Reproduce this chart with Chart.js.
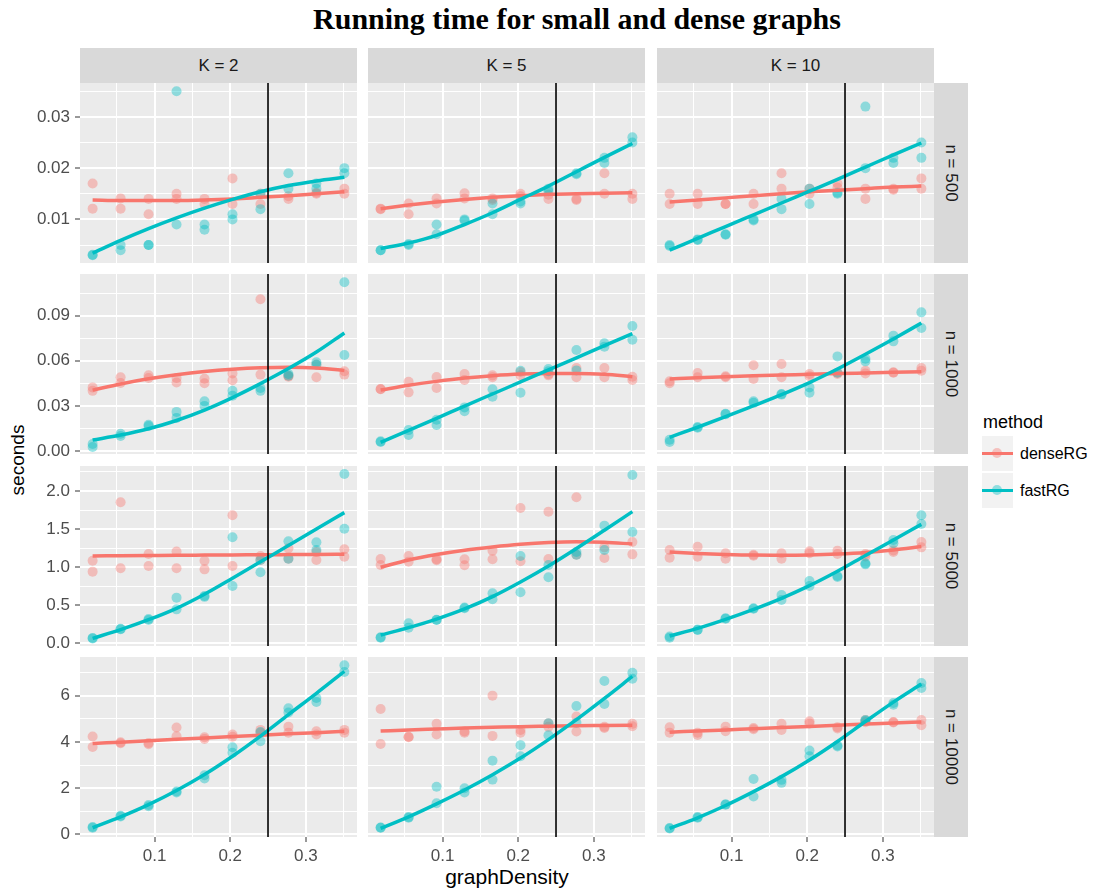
<!DOCTYPE html>
<html>
<head>
<meta charset="utf-8">
<script src="https://cdn.jsdelivr.net/npm/chart.js@4.4.1/dist/chart.umd.min.js"></script>
<style>
  body { margin: 0; background: #fff; width: 1113px; height: 896px; position: relative; overflow: hidden;
         font-family: "Liberation Sans", Arial, sans-serif; }
  canvas { position: absolute; }
  .txt { position: absolute; white-space: nowrap; transform: translate(-50%, -50%); }
  .strip { position: absolute; background: #D9D9D9; color: #1A1A1A; font-size: 17px;
           display: flex; align-items: center; justify-content: center; }
  .strip.side span { transform: rotate(90deg); white-space: nowrap; }
  .key { position: absolute; width: 31px; height: 35px; background: #F2F2F2; }
  .key .ln { position: absolute; left: 0; right: 0; top: 16px; height: 3px; }
  .key .pt { position: absolute; left: 10px; top: 12px; width: 10px; height: 10px; border-radius: 50%; }
</style>
</head>
<body>

<div class="txt" id="title" style="left:577px;top:19px;font-family:'Liberation Serif','Times New Roman',serif;font-weight:bold;font-size:30px;color:#000">Running time for small and dense graphs</div>
<div class="txt" style="left:18px;top:460px;font-size:19px;transform:translate(-50%,-50%) rotate(-90deg)">seconds</div>
<div class="txt" style="left:507px;top:877px;font-size:21px">graphDensity</div>

<div class="txt" style="left:983px;top:422px;font-size:18px;transform:translate(0,-50%)">method</div>
<div class="key" style="left:982px;top:436px"><div class="pt" style="background:rgba(248,118,109,0.4)"></div><div class="ln" style="background:#F8766D"></div></div>
<div class="txt" style="left:1020px;top:454px;font-size:16px;transform:translate(0,-50%)">denseRG</div>
<div class="key" style="left:982px;top:473px"><div class="pt" style="background:rgba(0,191,196,0.4)"></div><div class="ln" style="background:#00BFC4"></div></div>
<div class="txt" style="left:1020px;top:491px;font-size:16px;transform:translate(0,-50%)">fastRG</div>

<script>
// --- DATOS ---
const density = [0.018, 0.055, 0.092, 0.129, 0.166, 0.203, 0.240, 0.277, 0.314, 0.351];
const cutoff = 0.25;
const kLabels = ['K = 2', 'K = 5', 'K = 10'];
const nLabels = ['n = 500', 'n = 1000', 'n = 5000', 'n = 10000'];

const xMajor = [0.1, 0.2, 0.3];
const xMinor = [0.05, 0.15, 0.25, 0.35];
const xLabels = ['0.1', '0.2', '0.3'];
const xRange = [0.0013, 0.3677];

const yMajor500 = [0.01, 0.02, 0.03];
const yLabels500 = ['0.01', '0.02', '0.03'];
const yMinor500 = [0.005, 0.015, 0.025, 0.035];
const yRange500 = [0.0015, 0.0366];

const yMajor1000 = [0, 0.03, 0.06, 0.09];
const yLabels1000 = ['0.00', '0.03', '0.06', '0.09'];
const yMinor1000 = [0.015, 0.045, 0.075, 0.105];
const yRange1000 = [-0.002, 0.1177];

const yMajor5000 = [0, 0.5, 1, 1.5, 2];
const yLabels5000 = ['0.0', '0.5', '1.0', '1.5', '2.0'];
const yMinor5000 = [0.25, 0.75, 1.25, 1.75, 2.25];
const yRange5000 = [-0.035, 2.328];

const yMajor10000 = [0, 2, 4, 6];
const yLabels10000 = ['0', '2', '4', '6'];
const yMinor10000 = [1, 3, 5, 7];
const yRange10000 = [-0.11, 7.67];

// n = 500 (dos repeticiones por densidad)
const dense500K2  = [[0.017,0.0121],[0.0141,0.0121],[0.014,0.011],[0.015,0.014],[0.014,0.013],[0.018,0.013],[0.015,0.013],[0.014,0.0145],[0.015,0.0152],[0.016,0.015]];
const fast500K2   = [[0.0031,0.003],[0.005,0.004],[0.005,0.005],[0.035,0.009],[0.009,0.008],[0.011,0.010],[0.012,0.015],[0.019,0.016],[0.016,0.017],[0.020,0.019]];
const dense500K5  = [[0.0121,0.012],[0.0131,0.011],[0.0141,0.0131],[0.0151,0.0141],[0.0141,0.0138],[0.015,0.0145],[0.014,0.0148],[0.014,0.0138],[0.019,0.015],[0.015,0.014]];
const fast500K5   = [[0.004,0.004],[0.005,0.0052],[0.009,0.0071],[0.010,0.0098],[0.0131,0.011],[0.0131,0.0135],[0.016,0.0155],[0.019,0.0188],[0.022,0.021],[0.026,0.025]];
const dense500K10 = [[0.015,0.013],[0.015,0.013],[0.013,0.013],[0.015,0.013],[0.019,0.016],[0.016,0.015],[0.017,0.0162],[0.016,0.014],[0.016,0.0158],[0.018,0.016]];
const fast500K10  = [[0.005,0.0048],[0.0061,0.006],[0.0071,0.007],[0.010,0.0098],[0.014,0.012],[0.013,0.016],[0.015,0.0152],[0.032,0.020],[0.022,0.021],[0.025,0.022]];
const denseFit500K2  = [0.0138,0.0137,0.0137,0.0137,0.0138,0.014,0.0143,0.0146,0.015,0.0154];
const fastFit500K2   = [0.0034,0.0059,0.0082,0.0103,0.0122,0.0139,0.0154,0.0166,0.0175,0.0182];
const denseFit500K5  = [0.0121,0.0128,0.0134,0.0139,0.0143,0.0146,0.0149,0.015,0.0151,0.0152];
const fastFit500K5   = [0.0043,0.0054,0.0069,0.009,0.0113,0.0139,0.0165,0.0193,0.0221,0.0248];
const denseFit500K10 = [0.0134,0.0138,0.0142,0.0146,0.015,0.0154,0.0157,0.016,0.0163,0.0165];
const fastFit500K10  = [0.004,0.0063,0.0086,0.0109,0.0132,0.0155,0.0178,0.0202,0.0226,0.0249];

// n = 1000
const dense1000K2  = [[0.0423,0.040],[0.049,0.0452],[0.0503,0.0485],[0.0485,0.0456],[0.048,0.045],[0.0516,0.047],[0.1009,0.0508],[0.0494,0.050],[0.049,0.0575],[0.053,0.0508]];
const fast1000K2   = [[0.0047,0.0027],[0.0115,0.010],[0.0175,0.0166],[0.026,0.022],[0.033,0.030],[0.040,0.0368],[0.0419,0.040],[0.0512,0.050],[0.059,0.0574],[0.1122,0.0638]];
const dense1000K5  = [[0.0412,0.041],[0.046,0.039],[0.0492,0.0419],[0.0512,0.0472],[0.0503,0.049],[0.0525,0.0503],[0.0503,0.051],[0.0552,0.049],[0.0552,0.049],[0.0494,0.0472]];
const fast1000K5   = [[0.0064,0.006],[0.0139,0.0107],[0.0208,0.0173],[0.029,0.0264],[0.041,0.0361],[0.0534,0.0388],[0.0545,0.053],[0.0672,0.0536],[0.0716,0.0694],[0.0831,0.074]];
const dense1000K10 = [[0.0463,0.045],[0.0519,0.049],[0.0497,0.049],[0.057,0.0479],[0.0578,0.049],[0.0512,0.0497],[0.0512,0.052],[0.0534,0.0516],[0.0523,0.052],[0.0552,0.0534]];
const fast1000K10  = [[0.0075,0.006],[0.0159,0.0155],[0.0248,0.0245],[0.033,0.032],[0.0379,0.0375],[0.0423,0.0388],[0.0629,0.052],[0.0614,0.0596],[0.0767,0.0729],[0.0922,0.0818]];
const denseFit1000K2  = [0.0405,0.0446,0.048,0.0507,0.0528,0.0543,0.0553,0.0557,0.0552,0.0536];
const fastFit1000K2   = [0.0073,0.0106,0.0148,0.0203,0.0272,0.0355,0.0448,0.0548,0.0658,0.0785];
const denseFit1000K5  = [0.0405,0.0437,0.0463,0.0485,0.0501,0.0512,0.0516,0.0516,0.051,0.0494];
const fastFit1000K5   = [0.0057,0.0137,0.0217,0.0299,0.0379,0.0459,0.0539,0.0619,0.0701,0.078];
const denseFit1000K10 = [0.0479,0.0487,0.0494,0.05,0.0505,0.051,0.0515,0.0519,0.0523,0.0527];
const fastFit1000K10  = [0.0091,0.0158,0.0228,0.0301,0.0375,0.0455,0.0545,0.0643,0.0745,0.0851];

// n = 5000
const dense5000K2  = [[1.085,0.941],[1.851,0.985],[1.173,1.015],[1.204,0.985],[1.085,0.971],[1.681,1.015],[1.147,1.094],[1.247,1.112],[1.094,1.2],[1.234,1.138]];
const fast5000K2   = [[0.07,0.065],[0.184,0.19],[0.306,0.32],[0.6,0.446],[0.621,0.61],[1.392,0.753],[0.932,1.094],[1.339,1.112],[1.326,1.225],[2.223,1.505]];
const dense5000K5  = [[1.107,1.028],[1.147,1.072],[1.103,1.09],[1.103,1.024],[1.217,1.103],[1.777,1.077],[1.729,1.107],[1.917,1.164],[1.26,1.12],[1.33,1.168]];
const fast5000K5   = [[0.074,0.08],[0.263,0.206],[0.306,0.31],[0.46,0.47],[0.656,0.578],[1.147,0.67],[1.028,0.867],[1.164,1.2],[1.545,1.225],[2.21,1.462]];
const dense5000K10 = [[1.225,1.125],[1.269,1.138],[1.182,1.112],[1.164,1.15],[1.182,1.112],[1.208,1.182],[1.217,1.173],[1.173,1.14],[1.199,1.22],[1.33,1.26]];
const fast5000K10  = [[0.074,0.09],[0.175,0.18],[0.324,0.33],[0.455,0.46],[0.635,0.569],[0.818,0.753],[0.884,0.87],[1.037,1.05],[1.357,1.313],[1.681,1.567]];
const denseFit5000K2  = [1.147,1.15,1.153,1.156,1.158,1.16,1.163,1.165,1.167,1.17];
const fastFit5000K2   = [0.066,0.18,0.31,0.46,0.645,0.855,1.07,1.285,1.5,1.716];
const denseFit5000K5  = [0.998,1.094,1.165,1.222,1.265,1.3,1.324,1.334,1.327,1.304];
const fastFit5000K5   = [0.109,0.206,0.318,0.451,0.613,0.805,1.015,1.245,1.485,1.729];
const denseFit5000K10 = [1.199,1.18,1.167,1.158,1.156,1.16,1.172,1.192,1.226,1.27];
const fastFit5000K10  = [0.096,0.197,0.315,0.446,0.591,0.757,0.946,1.153,1.357,1.562];

// n = 10000
const dense10000K2  = [[4.23,3.78],[3.94,3.98],[3.9,3.95],[4.62,4.24],[4.13,4.2],[4.32,4.22],[4.52,4.4],[4.66,4.4],[4.46,4.32],[4.52,4.4]];
const fast10000K2   = [[0.29,0.32],[0.81,0.78],[1.27,1.22],[1.81,1.86],[2.56,2.42],[3.77,3.53],[4.43,4.03],[5.45,5.27],[5.9,5.73],[7.31,7.02]];
const dense10000K5  = [[5.42,3.91],[4.2,4.22],[4.78,4.32],[4.4,4.45],[6.0,4.26],[4.52,4.4],[4.81,4.65],[4.45,5.1],[4.6,4.65],[4.78,4.68]];
const fast10000K5   = [[0.29,0.3],[0.72,0.75],[2.06,1.35],[1.81,2.0],[3.19,2.37],[3.86,3.38],[4.81,4.29],[5.55,4.83],[6.63,5.64],[6.99,6.73]];
const dense10000K10 = [[4.63,4.4],[4.4,4.3],[4.66,4.46],[4.6,4.55],[4.78,4.52],[4.89,4.8],[4.63,4.58],[4.95,4.85],[4.86,4.84],[4.95,4.72]];
const fast10000K10  = [[0.26,0.28],[0.72,0.75],[1.29,1.3],[2.4,1.64],[2.36,2.23],[3.63,3.38],[3.8,3.85],[4.95,4.9],[5.68,5.61],[6.55,6.33]];
const denseFit10000K2  = [3.93,3.99,4.05,4.11,4.17,4.23,4.29,4.35,4.4,4.46];
const fastFit10000K2   = [0.29,0.76,1.29,1.9,2.59,3.38,4.25,5.18,6.1,7.05];
const denseFit10000K5  = [4.47,4.52,4.56,4.6,4.63,4.66,4.68,4.7,4.71,4.72];
const fastFit10000K5   = [0.26,0.76,1.32,1.92,2.58,3.3,4.1,4.96,5.88,6.83];
const denseFit10000K10 = [4.42,4.47,4.52,4.57,4.62,4.67,4.72,4.77,4.82,4.86];
const fastFit10000K10  = [0.26,0.72,1.25,1.85,2.5,3.22,4.02,4.88,5.72,6.5];

// --- TABLAS POR FILA / COLUMNA ---
const densePts = [[dense500K2, dense500K5, dense500K10], [dense1000K2, dense1000K5, dense1000K10],
                  [dense5000K2, dense5000K5, dense5000K10], [dense10000K2, dense10000K5, dense10000K10]];
const fastPts  = [[fast500K2, fast500K5, fast500K10], [fast1000K2, fast1000K5, fast1000K10],
                  [fast5000K2, fast5000K5, fast5000K10], [fast10000K2, fast10000K5, fast10000K10]];
const denseFits = [[denseFit500K2, denseFit500K5, denseFit500K10], [denseFit1000K2, denseFit1000K5, denseFit1000K10],
                   [denseFit5000K2, denseFit5000K5, denseFit5000K10], [denseFit10000K2, denseFit10000K5, denseFit10000K10]];
const fastFits  = [[fastFit500K2, fastFit500K5, fastFit500K10], [fastFit1000K2, fastFit1000K5, fastFit1000K10],
                   [fastFit5000K2, fastFit5000K5, fastFit5000K10], [fastFit10000K2, fastFit10000K5, fastFit10000K10]];
const yMajors = [yMajor500, yMajor1000, yMajor5000, yMajor10000];
const yLabelsAll = [yLabels500, yLabels1000, yLabels5000, yLabels10000];
const yMinors = [yMinor500, yMinor1000, yMinor5000, yMinor10000];
const yRanges = [yRange500, yRange1000, yRange5000, yRange10000];

// --- LAYOUT ---
const rowTop = [83, 274, 466, 657];
const colLeft = [80, 368, 657];
const panelW = 277, panelH = 180;
const stripH = 35, stripW = 34;
const bottomAxisH = 34;
const margin = 14;   // espacio extra para que no se corten las etiquetas

const RED = '#F8766D', CYAN = '#00BFC4';
Chart.defaults.font.family = "'Liberation Sans', Arial, sans-serif";

// franjas (strips)
kLabels.forEach((lab, c) => {
    const d = document.createElement('div');
    d.className = 'strip';
    Object.assign(d.style, { left: colLeft[c] + 'px', top: (rowTop[0] - stripH) + 'px', width: panelW + 'px', height: stripH + 'px' });
    d.textContent = lab;
    document.body.appendChild(d);
});
nLabels.forEach((lab, r) => {
    const d = document.createElement('div');
    d.className = 'strip side';
    Object.assign(d.style, { left: (colLeft[2] + panelW) + 'px', top: rowTop[r] + 'px', width: stripW + 'px', height: panelH + 'px' });
    d.innerHTML = '<span>' + lab + '</span>';
    document.body.appendChild(d);
});

const panelBg = {
    id: 'panelBg',
    beforeDraw(chart) {
        const a = chart.chartArea, ctx = chart.ctx;
        ctx.save();
        ctx.fillStyle = '#EBEBEB';
        ctx.fillRect(a.left, a.top, a.right - a.left, a.bottom - a.top);
        ctx.restore();
    }
};
const cutoffLine = {
    id: 'cutoffLine',
    afterDatasetsDraw(chart) {
        const a = chart.chartArea, ctx = chart.ctx;
        const px = chart.scales.x.getPixelForValue(cutoff);
        ctx.save();
        ctx.strokeStyle = '#000';
        ctx.lineWidth = 1.6;
        ctx.beginPath();
        ctx.moveTo(px, a.top);
        ctx.lineTo(px, a.bottom);
        ctx.stroke();
        ctx.restore();
    }
};

function points(reps) {
    const out = [];
    reps.forEach((vals, i) => vals.forEach(v => out.push({ x: density[i], y: v })));
    return out;
}
function curve(vals) {
    return vals.map((v, i) => ({ x: density[i], y: v }));
}
function noPad(s) {
    s.paddingTop = 0; s.paddingBottom = 0; s.paddingLeft = 0; s.paddingRight = 0;
}

function makePanel(r, c) {
    const cv = document.createElement('canvas');
    const left = c === 0 ? 0 : colLeft[c];
    const width = c === 0 ? colLeft[0] + panelW : panelW;
    const height = margin + panelH + (r === 3 ? bottomAxisH : margin);
    cv.width = width; cv.height = height;
    Object.assign(cv.style, { left: left + 'px', top: (rowTop[r] - margin) + 'px', width: width + 'px', height: height + 'px' });
    document.body.appendChild(cv);

    const yMaj = yMajors[r], yLab = yLabelsAll[r];
    const yGrid = yMajors[r].concat(yMinors[r]);
    const xGrid = xMajor.concat(xMinor);

    new Chart(cv, {
        type: 'scatter',
        data: {
            datasets: [
                { data: curve(fastFits[r][c]), showLine: true, borderColor: CYAN, borderWidth: 3.5, pointRadius: 0,
                  cubicInterpolationMode: 'monotone', order: 0 },
                { data: curve(denseFits[r][c]), showLine: true, borderColor: RED, borderWidth: 3.5, pointRadius: 0,
                  cubicInterpolationMode: 'monotone', order: 1 },
                { data: points(fastPts[r][c]), pointRadius: 5, pointBorderWidth: 0,
                  pointBackgroundColor: 'rgba(0,191,196,0.4)', pointBorderColor: 'rgba(0,0,0,0)', order: 2 },
                { data: points(densePts[r][c]), pointRadius: 5, pointBorderWidth: 0,
                  pointBackgroundColor: 'rgba(248,118,109,0.4)', pointBorderColor: 'rgba(0,0,0,0)', order: 3 }
            ]
        },
        options: {
            responsive: false, animation: false, events: [],
            layout: { autoPadding: false, padding: { top: margin, bottom: r === 3 ? 0 : margin, left: 0, right: 0 } },
            plugins: { legend: { display: false }, tooltip: { enabled: false } },
            scales: {
                x: {
                    type: 'linear', min: xRange[0], max: xRange[1],
                    afterBuildTicks: s => { s.ticks = xGrid.map(v => ({ value: v })); },
                    afterFit: s => { s.height = r === 3 ? bottomAxisH : 0; noPad(s); },
                    border: { display: false },
                    grid: {
                        color: '#FFFFFF',
                        lineWidth: ctx => xMajor.includes(ctx.tick.value) ? 2 : 1,
                        drawTicks: r === 3, tickLength: 5, tickWidth: 1,
                        tickColor: ctx => xMajor.includes(ctx.tick.value) ? '#333333' : 'rgba(0,0,0,0)'
                    },
                    ticks: {
                        display: r === 3, autoSkip: false, maxRotation: 0, padding: 4,
                        color: '#4D4D4D', font: { size: 17 },
                        callback: v => { const i = xMajor.indexOf(v); return i >= 0 ? xLabels[i] : ''; }
                    }
                },
                y: {
                    type: 'linear', min: yRanges[r][0], max: yRanges[r][1],
                    afterBuildTicks: s => { s.ticks = yGrid.map(v => ({ value: v })); },
                    afterFit: s => { s.width = c === 0 ? colLeft[0] : 0; noPad(s); },
                    border: { display: false },
                    grid: {
                        color: '#FFFFFF',
                        lineWidth: ctx => yMaj.includes(ctx.tick.value) ? 2 : 1,
                        drawTicks: c === 0, tickLength: 5, tickWidth: 1,
                        tickColor: ctx => yMaj.includes(ctx.tick.value) ? '#333333' : 'rgba(0,0,0,0)'
                    },
                    ticks: {
                        display: c === 0, autoSkip: false, padding: 5,
                        color: '#4D4D4D', font: { size: 17 },
                        callback: v => { const i = yMaj.indexOf(v); return i >= 0 ? yLab[i] : ''; }
                    }
                }
            }
        },
        plugins: [panelBg, cutoffLine]
    });
}

for (let r = 0; r < 4; r++) {
    for (let c = 0; c < 3; c++) makePanel(r, c);
}
</script>
</body>
</html>
